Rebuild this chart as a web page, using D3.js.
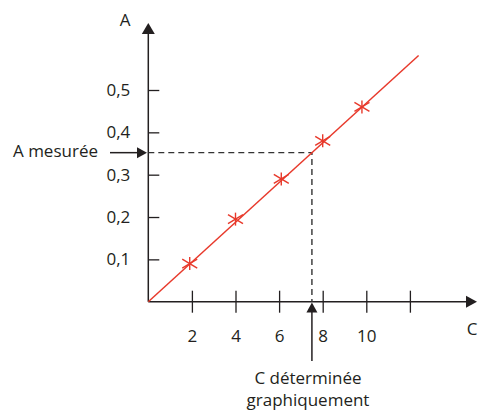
<!DOCTYPE html>
<html lang="fr">
<head>
<meta charset="UTF-8">
<title>Courbe d'étalonnage</title>
<script src="https://d3js.org/d3.v7.min.js"></script>
<style>
    body { margin: 0; background: #fff; }
    svg text { font-family: "Open Sans", "DejaVu Sans", sans-serif; font-size: 17px; fill: #231f20; }
    .tick line { stroke: #231f20; stroke-width: 1.3px; }
</style>
</head>
<body>
<div id="chart"></div>
<script>
    // données
    const concentrations = [1.9, 4.0, 6.1, 8.0, 9.8];
    const absorbances = [0.09, 0.195, 0.29, 0.38, 0.46];
    const droiteC = [0, 12.4];
    const xTicks = [2, 4, 6, 8, 10, 12];
    const xLabels = ["2", "4", "6", "8", "10", ""];
    const yTicks = [0.1, 0.2, 0.3, 0.4, 0.5];
    const aMesuree = 0.352;
    const pente = 0.0469;

    const width = 478, height = 413;
    const ink = "#231f20", rouge = "#e8392b";

    const svg = d3.select("#chart").append("svg")
        .attr("width", width)
        .attr("height", height);

    // échelles
    const x = d3.scaleLinear().domain([0, 12]).range([148.3, 409.9]);
    const y = d3.scaleLinear().domain([0, 0.5]).range([301.7, 90]);
    const fr = d3.formatLocale({ decimal: ",", thousands: " ", grouping: [3], currency: ["", "€"] });

    // axe horizontal
    const gx = svg.append("g")
        .attr("transform", `translate(0,${y(0)})`)
        .call(d3.axisBottom(x).tickValues(xTicks).tickSize(11).tickPadding(17)
            .tickFormat((d, i) => xLabels[i]));
    gx.select(".domain").remove();
    gx.selectAll(".tick line").attr("y1", -11);
    gx.selectAll(".tick text").style("font-size", "17px").attr("fill", ink);

    // axe vertical
    const gy = svg.append("g")
        .attr("transform", `translate(${x(0)},0)`)
        .call(d3.axisLeft(y).tickValues(yTicks).tickSize(11).tickPadding(7)
            .tickFormat(fr.format(".1f")));
    gy.select(".domain").remove();
    gy.selectAll(".tick line").attr("x2", 11);
    gy.selectAll(".tick text").style("font-size", "17px").attr("fill", ink);

    const x0 = x(0), y0 = y(0);
    svg.append("line").attr("x1", x0).attr("y1", y0).attr("x2", 468).attr("y2", y0)
        .attr("stroke", ink).attr("stroke-width", 1.5);
    svg.append("line").attr("x1", x0).attr("y1", y0).attr("x2", x0).attr("y2", 32)
        .attr("stroke", ink).attr("stroke-width", 1.5);

    function fleche(tx, ty, dir, len, half) {
        // pointe en (tx, ty)
        let pts;
        if (dir === "right") pts = [[tx, ty], [tx - len, ty - half], [tx - len, ty + half]];
        if (dir === "up") pts = [[tx, ty], [tx - half, ty + len], [tx + half, ty + len]];
        svg.append("polygon").attr("points", pts.map(p => p.join(",")).join(" ")).attr("fill", ink);
    }
    fleche(477, y0, "right", 11, 6);
    fleche(x0, 23, "up", 11, 6.5);

    svg.append("text").attr("x", 125).attr("y", 21).attr("text-anchor", "middle")
        .attr("dominant-baseline", "middle").text("A");
    svg.append("text").attr("x", 472).attr("y", 330).attr("text-anchor", "middle")
        .attr("dominant-baseline", "middle").text("C");

    // lignes de lecture
    const cLu = aMesuree / pente;
    svg.append("path")
        .attr("d", `M${x0},${y(aMesuree)}H${x(cLu)}V${y0}`)
        .attr("fill", "none").attr("stroke", "#333").attr("stroke-width", 1.4)
        .attr("stroke-dasharray", "6,4");

    // flèche "A mesurée"
    svg.append("line").attr("x1", 110).attr("y1", y(aMesuree)).attr("x2", 138).attr("y2", y(aMesuree))
        .attr("stroke", ink).attr("stroke-width", 1.5);
    fleche(147, y(aMesuree), "right", 10, 5.5);
    svg.append("text").attr("x", 98).attr("y", y(aMesuree)).attr("text-anchor", "end")
        .attr("dominant-baseline", "middle").text("A mesurée");

    // flèche "C déterminée graphiquement"
    svg.append("line").attr("x1", x(cLu)).attr("y1", 361).attr("x2", x(cLu)).attr("y2", 311)
        .attr("stroke", ink).attr("stroke-width", 1.5);
    fleche(x(cLu), 302.5, "up", 10, 5.5);
    svg.append("text").attr("x", 308).attr("y", 379).attr("text-anchor", "middle")
        .attr("dominant-baseline", "middle").text("C déterminée");
    svg.append("text").attr("x", 308).attr("y", 401).attr("text-anchor", "middle")
        .attr("dominant-baseline", "middle").text("graphiquement");

    // droite d'étalonnage
    svg.append("line")
        .attr("x1", x(droiteC[0])).attr("y1", y(pente * droiteC[0]))
        .attr("x2", x(droiteC[1])).attr("y2", y(pente * droiteC[1]))
        .attr("stroke", rouge).attr("stroke-width", 1.5);

    // points de mesure (astérisques)
    const pts = concentrations.map((c, i) => ({ c: c, a: absorbances[i] }));
    const star = svg.append("g").selectAll("g").data(pts).enter().append("g")
        .attr("transform", d => `translate(${x(d.c)},${y(d.a)})`)
        .attr("stroke", rouge).attr("stroke-width", 1.4);
    star.append("line").attr("x1", 0).attr("y1", -6.5).attr("x2", 0).attr("y2", 6.5);
    star.append("line").attr("x1", -7.5).attr("y1", -4.5).attr("x2", 7.5).attr("y2", 4.5);
    star.append("line").attr("x1", -7.5).attr("y1", 4.5).attr("x2", 7.5).attr("y2", -4.5);
</script>
</body>
</html>
